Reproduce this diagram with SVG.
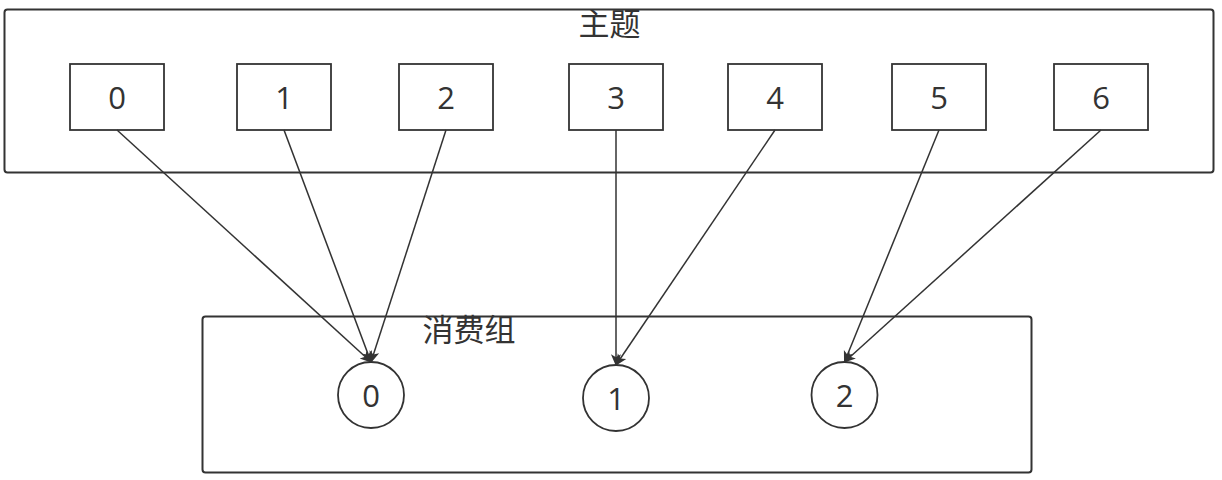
<svg xmlns="http://www.w3.org/2000/svg" width="1222" height="480" viewBox="0 0 1222 480">
<style>
.c{fill:#fff;stroke:#333;stroke-width:2}
.b{fill:#fff;stroke:#333;stroke-width:1.8}
.t{font-family:"Open Sans","Noto Sans CJK SC",sans-serif;font-size:31px;fill:#333;text-anchor:middle}
.e{fill:none;stroke:#333;stroke-width:1.5}
</style>
<defs>
<marker id="ah" viewBox="0 0 10 10" refX="9" refY="5" markerWidth="12" markerHeight="12" markerUnits="userSpaceOnUse" orient="auto">
<path d="M0,0.8 L10,5 L0,9.2 L2.5,5 Z" fill="#333"/>
</marker>
</defs>
<rect width="1222" height="480" fill="#fff"/>
<g id="topic">
<rect class="c" x="4.5" y="9.5" width="1209" height="163" rx="3"/>
<text class="t" x="609.5" y="35">主题</text>
</g>
<g id="group">
<rect class="c" x="202.5" y="316.5" width="829" height="156" rx="3"/>
<text class="t" x="469" y="341">消费组</text>
</g>
<g id="p0"><rect class="b" x="70" y="64" width="94" height="66"/><text class="t" x="117" y="109">0</text></g>
<g id="p1"><rect class="b" x="237" y="64" width="94" height="66"/><text class="t" x="284" y="109">1</text></g>
<g id="p2"><rect class="b" x="399" y="64" width="94" height="66"/><text class="t" x="446" y="109">2</text></g>
<g id="p3"><rect class="b" x="569" y="64" width="94" height="66"/><text class="t" x="616" y="109">3</text></g>
<g id="p4"><rect class="b" x="728" y="64" width="94" height="66"/><text class="t" x="775" y="109">4</text></g>
<g id="p5"><rect class="b" x="892" y="64" width="94" height="66"/><text class="t" x="939" y="109">5</text></g>
<g id="p6"><rect class="b" x="1054" y="64" width="94" height="66"/><text class="t" x="1101" y="109">6</text></g>
<g id="c0"><circle class="b" cx="371" cy="395" r="33"/><text class="t" x="371" y="407">0</text></g>
<g id="c1"><circle class="b" cx="616" cy="398" r="33"/><text class="t" x="616" y="410">1</text></g>
<g id="c2"><circle class="b" cx="844.5" cy="395" r="33"/><text class="t" x="844.5" y="407">2</text></g>
<g id="connectors">
<line class="e" x1="117" y1="130" x2="371" y2="362" marker-end="url(#ah)"/>
<line class="e" x1="284" y1="130" x2="371" y2="362" marker-end="url(#ah)"/>
<line class="e" x1="446" y1="130" x2="371" y2="362" marker-end="url(#ah)"/>
<line class="e" x1="616" y1="130" x2="616" y2="365" marker-end="url(#ah)"/>
<line class="e" x1="775" y1="130" x2="616" y2="365" marker-end="url(#ah)"/>
<line class="e" x1="939" y1="130" x2="844.5" y2="362" marker-end="url(#ah)"/>
<line class="e" x1="1101" y1="130" x2="844.5" y2="362" marker-end="url(#ah)"/>
</g>
</svg>
